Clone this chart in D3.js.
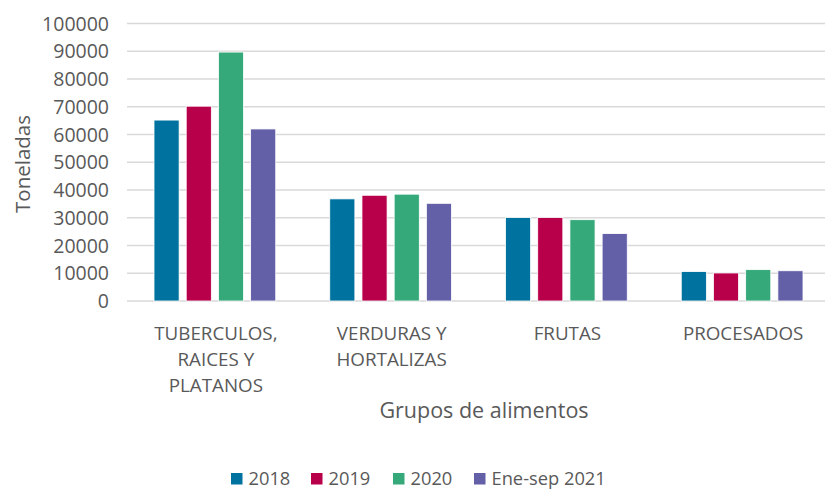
<!DOCTYPE html>
<html>
<head>
<meta charset="utf-8">
<script src="https://cdn.jsdelivr.net/npm/d3@7"></script>
<style>
  body { margin: 0; background: #fff; }
  text { font-family: "Open Sans", Lato, sans-serif; fill: #595959; }
</style>
</head>
<body>
<div id="chart"></div>
<script>
const categories = [["TUBERCULOS,", "RAICES Y", "PLATANOS"], ["VERDURAS Y", "HORTALIZAS"], ["FRUTAS"], ["PROCESADOS"]];
const series = ["2018", "2019", "2020", "Ene-sep 2021"];
const colors = ["#00729F", "#B8004A", "#36A97A", "#6360A8"];
const values2018 = [65200, 36800, 30100, 10600];
const values2019 = [70200, 38100, 30100, 10100];
const values2020 = [89700, 38500, 29300, 11300];
const values2021 = [62000, 35200, 24300, 10900];
const yTicks = [0, 10000, 20000, 30000, 40000, 50000, 60000, 70000, 80000, 90000, 100000];

const allValues = [values2018, values2019, values2020, values2021];
const width = 825, height = 491;
const plotLeft = 127, plotRight = 830, plotTop = 23.5, plotBottom = 301;

const svg = d3.select("#chart").append("svg")
  .attr("width", width)
  .attr("height", height);

const catKeys = categories.map((c, i) => i);
const x0 = d3.scaleBand().domain(catKeys).range([plotLeft, plotRight]);
const x1 = d3.scaleBand().domain(series)
  .range([27, x0.bandwidth() - 27])
  .paddingInner(0.22);
const y = d3.scaleLinear().domain([0, 100000]).range([plotBottom, plotTop]);

// gridlines
svg.append("g")
  .selectAll("line")
  .data(yTicks)
  .enter()
  .append("line")
  .attr("x1", plotLeft)
  .attr("x2", width)
  .attr("y1", d => y(d))
  .attr("y2", d => y(d))
  .attr("stroke", "#d9d9d9")
  .attr("stroke-width", 1.5);

// y tick labels
svg.append("g")
  .selectAll("text")
  .data(yTicks)
  .enter()
  .append("text")
  .attr("x", 109)
  .attr("y", d => y(d))
  .attr("dy", "0.36em")
  .attr("text-anchor", "end")
  .style("font-size", "19.5px")
  .text(d => d);

// bars
const groups = svg.append("g")
  .selectAll("g")
  .data(catKeys)
  .enter()
  .append("g")
  .attr("transform", i => `translate(${x0(i)},0)`);

groups.selectAll("rect")
  .data(i => series.map((s, j) => ({ s, j, v: allValues[j][i] })))
  .enter()
  .append("rect")
  .attr("x", d => x1(d.s))
  .attr("width", x1.bandwidth())
  .attr("y", d => y(d.v))
  .attr("height", d => y(0) - y(d.v))
  .attr("fill", d => colors[d.j])
  .attr("stroke", "#fff")
  .attr("stroke-width", 0.8);

// category labels
const catLabels = svg.append("g")
  .selectAll("text")
  .data(catKeys)
  .enter()
  .append("text")
  .attr("x", i => x0(i) + x0.bandwidth() / 2 + 1)
  .attr("y", 340)
  .attr("text-anchor", "middle")
  .style("font-size", "18.8px");

catLabels.selectAll("tspan")
  .data(i => categories[i])
  .enter()
  .append("tspan")
  .attr("x", function() { return d3.select(this.parentNode).attr("x"); })
  .attr("dy", (d, k) => k === 0 ? 0 : 26)
  .text(d => d);

// axis titles
svg.append("text")
  .attr("x", 484)
  .attr("y", 418)
  .attr("text-anchor", "middle")
  .style("font-size", "21.5px")
  .text("Grupos de alimentos");

svg.append("text")
  .attr("transform", "translate(30,164) rotate(-90)")
  .attr("text-anchor", "middle")
  .style("font-size", "20.5px")
  .text("Toneladas");

// legend
const legendX = [231, 311, 393, 474];
const legend = svg.append("g")
  .selectAll("g")
  .data(series)
  .enter()
  .append("g")
  .attr("transform", (d, i) => `translate(${legendX[i]},473)`);

legend.append("rect")
  .attr("width", 11.5)
  .attr("height", 11.5)
  .attr("fill", (d, i) => colors[i]);

legend.append("text")
  .attr("x", 17.5)
  .attr("y", 5.5)
  .attr("dy", "0.36em")
  .style("font-size", "18.3px")
  .text(d => d);
</script>
</body>
</html>
